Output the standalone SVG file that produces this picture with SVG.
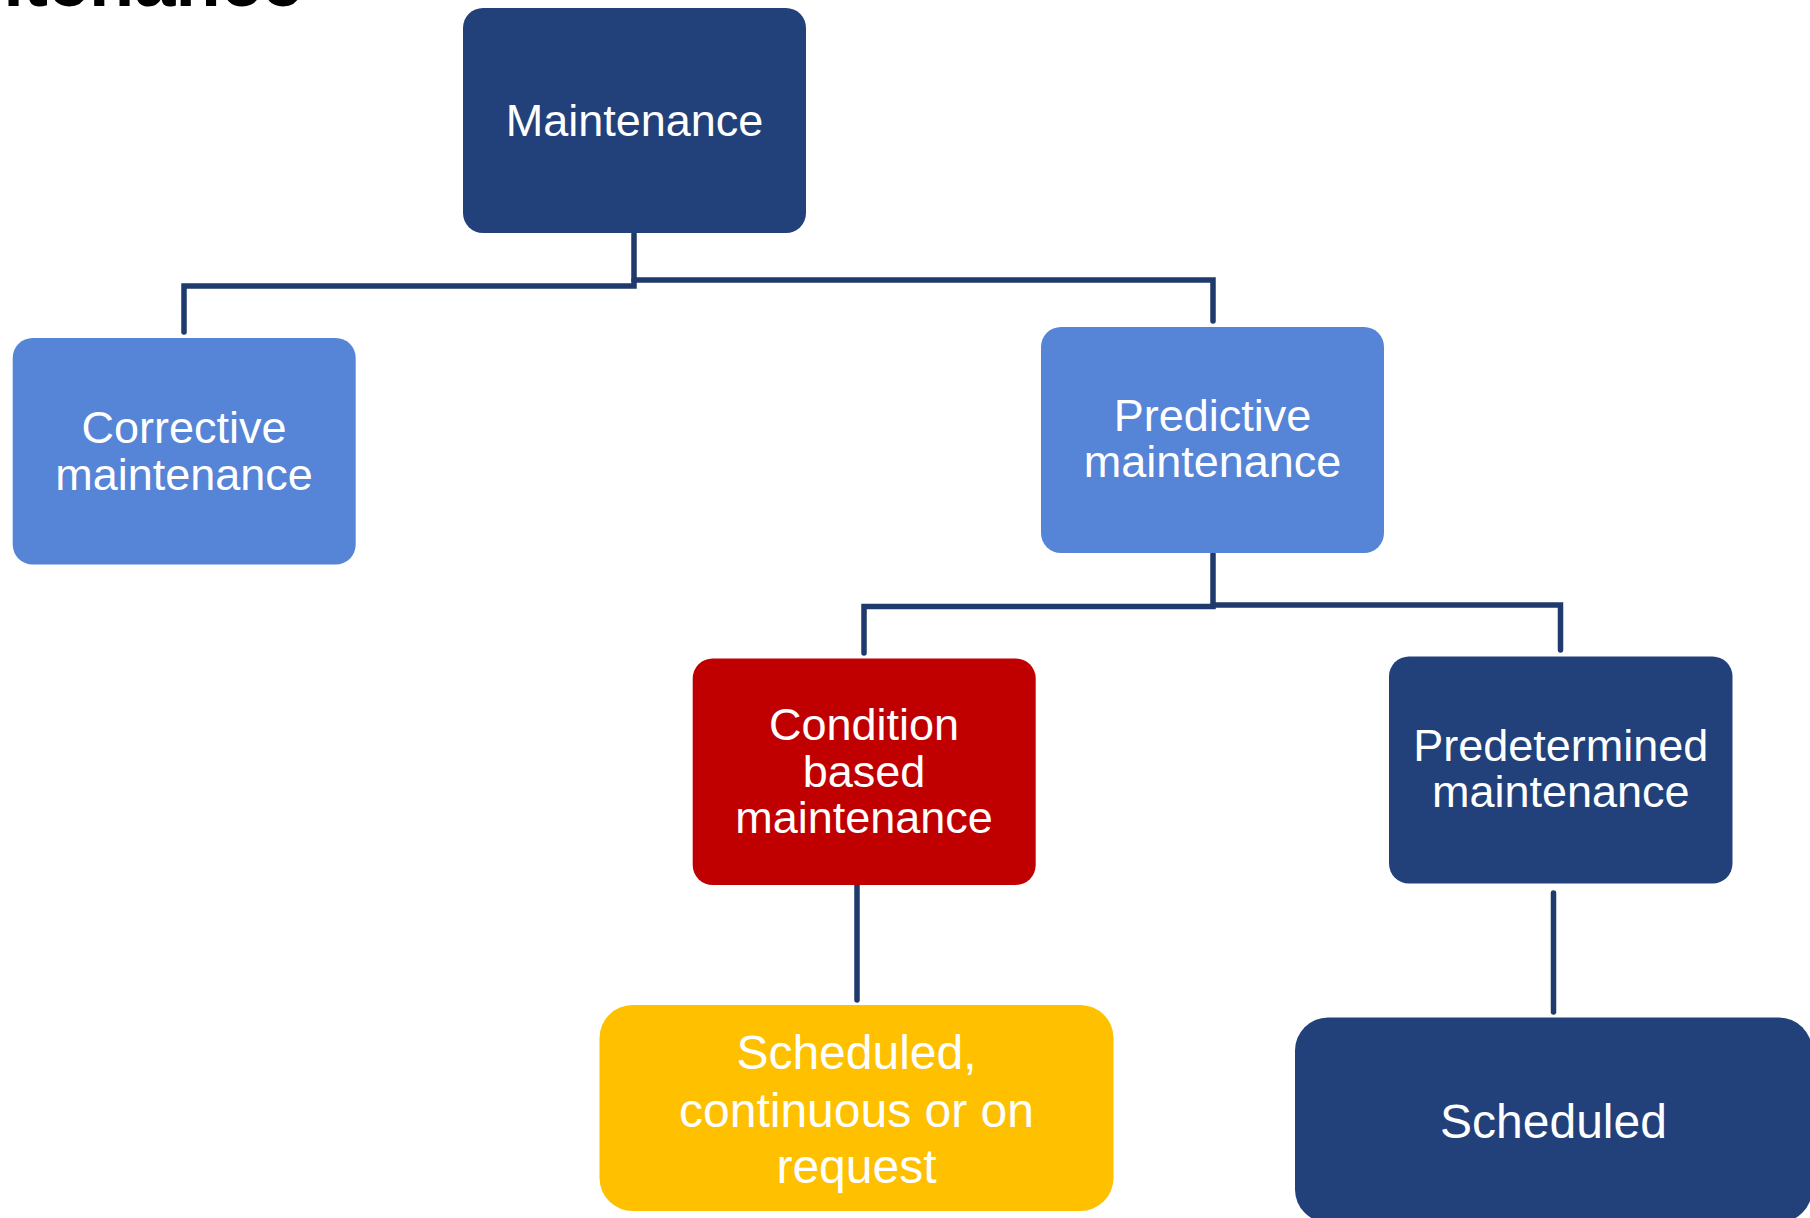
<svg xmlns="http://www.w3.org/2000/svg" width="1810" height="1218" viewBox="0 0 1810 1218">
<style>
.box{stroke:none}
.navy{fill:#22417B}
.blue{fill:#5684D6}
.red{fill:#C00000}
.yellow{fill:#FFC000}
.lbl{font-family:"Liberation Sans",Arial,sans-serif;font-size:45px;fill:#FFFFFF;text-anchor:middle}
.lbl48{font-family:"Liberation Sans",Arial,sans-serif;font-size:48px;fill:#FFFFFF;text-anchor:middle}
.conn{fill:none;stroke:#1F3A6C;stroke-width:5.5;stroke-linecap:round;stroke-linejoin:miter}
.title{font-family:"Liberation Sans",Arial,sans-serif;font-size:74px;font-weight:bold;fill:#000000;text-anchor:end}
</style>
<rect width="1810" height="1218" fill="#FFFFFF"/>
<text class="title" x="303" y="6">maintenance</text>
<g id="connectors">
<path class="conn" d="M634,234 V286 H184 V332"/>
<path class="conn" d="M634,280 H1213 V321"/>
<path class="conn" d="M1213,554 V606.5 H864 V653"/>
<path class="conn" d="M1213,605 H1560.5 V650"/>
<path class="conn" d="M857,884 V1000"/>
<path class="conn" d="M1553.5,893 V1012"/>
</g>
<g id="maintenance">
<rect class="box navy" x="463" y="8" width="343" height="225" rx="20"/>
<text class="lbl" x="634.5" y="136">Maintenance</text>
</g>
<g id="corrective">
<rect class="box blue" x="12.7" y="338" width="343" height="226.5" rx="20"/>
<text class="lbl" x="184" y="443">Corrective</text>
<text class="lbl" x="184" y="489.5">maintenance</text>
</g>
<g id="predictive">
<rect class="box blue" x="1041" y="327" width="343" height="226" rx="20"/>
<text class="lbl" x="1212.5" y="430.5">Predictive</text>
<text class="lbl" x="1212.5" y="477">maintenance</text>
</g>
<g id="condition">
<rect class="box red" x="692.7" y="658.5" width="343" height="226.5" rx="20"/>
<text class="lbl" x="864" y="739.5">Condition</text>
<text class="lbl" x="864" y="786.5">based</text>
<text class="lbl" x="864" y="833">maintenance</text>
</g>
<g id="predetermined">
<rect class="box navy" x="1389" y="656.5" width="343.5" height="227" rx="20"/>
<text class="lbl" x="1560.75" y="760.7">Predetermined</text>
<text class="lbl" x="1560.75" y="806.7">maintenance</text>
</g>
<g id="scheduled-continuous">
<rect class="box yellow" x="599.5" y="1005" width="514" height="206" rx="33"/>
<text class="lbl48" x="856.5" y="1069.3">Scheduled,</text>
<text class="lbl48" x="856.5" y="1126.7">continuous or on</text>
<text class="lbl48" x="856.5" y="1183.3">request</text>
</g>
<g id="scheduled">
<rect class="box navy" x="1295" y="1017.5" width="517" height="205" rx="33"/>
<text class="lbl48" x="1553.5" y="1138">Scheduled</text>
</g>
</svg>
